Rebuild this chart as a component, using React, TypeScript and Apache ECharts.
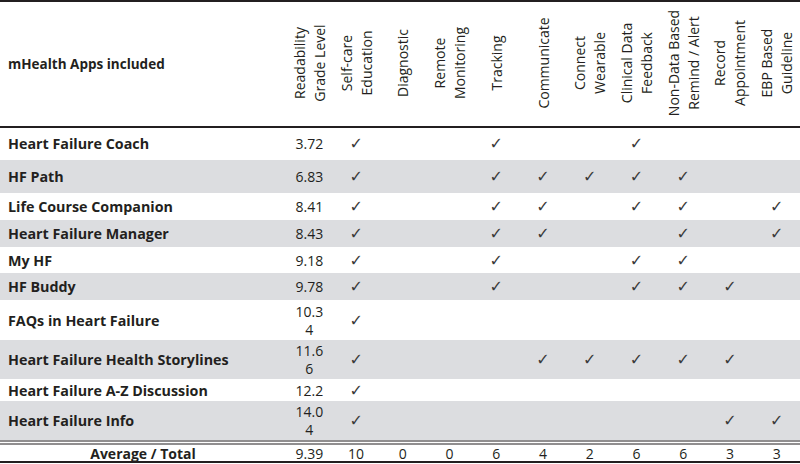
import React, { useEffect, useRef } from "react";
import * as echarts from "echarts";

// ---------- data ----------
const appNames = [
  "Heart Failure Coach",
  "HF Path",
  "Life Course Companion",
  "Heart Failure Manager",
  "My HF",
  "HF Buddy",
  "FAQs in Heart Failure",
  "Heart Failure Health Storylines",
  "Heart Failure A-Z Discussion",
  "Heart Failure Info",
];
const readability = [3.72, 6.83, 8.41, 8.43, 9.18, 9.78, 10.34, 11.66, 12.2, 14.04];
const nameHeader = "mHealth Apps included";
const columnLabels = [
  "Readability\nGrade Level",
  "Self-care\nEducation",
  "Diagnostic",
  "Remote\nMonitoring",
  "Tracking",
  "Communicate",
  "Connect\nWearable",
  "Clinical Data\nFeedback",
  "Non-Data Based\nRemind / Alert",
  "Record\nAppointment",
  "EBP Based\nGuideline",
];
// one flag per app (1 = ✓)
const selfCare = [1, 1, 1, 1, 1, 1, 1, 1, 1, 1];
const diagnostic = [0, 0, 0, 0, 0, 0, 0, 0, 0, 0];
const remoteMonitoring = [0, 0, 0, 0, 0, 0, 0, 0, 0, 0];
const tracking = [1, 1, 1, 1, 1, 1, 0, 0, 0, 0];
const communicate = [0, 1, 1, 1, 0, 0, 0, 1, 0, 0];
const connectWearable = [0, 1, 0, 0, 0, 0, 0, 1, 0, 0];
const clinicalFeedback = [1, 1, 1, 0, 1, 1, 0, 1, 0, 0];
const remindAlert = [0, 1, 1, 1, 1, 1, 0, 1, 0, 0];
const recordAppointment = [0, 0, 0, 0, 0, 1, 0, 1, 0, 1];
const ebpGuideline = [0, 0, 1, 1, 0, 0, 0, 0, 0, 1];
const totalLabel = "Average / Total";
const totals = ["9.39", "10", "0", "0", "6", "4", "2", "6", "6", "3", "3"];

// ---------- layout (relative row heights) ----------
const rowHeights = [33, 33, 27, 27, 26, 27, 40, 39, 22, 39];
const totalGap = 4;
const totalHeight = 18;

const features = [
  selfCare,
  diagnostic,
  remoteMonitoring,
  tracking,
  communicate,
  connectWearable,
  clinicalFeedback,
  remindAlert,
  recordAppointment,
  ebpGuideline,
];

const rowStart: number[] = [];
{
  let acc = 0;
  rowHeights.forEach((h) => {
    rowStart.push(acc);
    acc += h;
  });
}
const bodyEnd = rowHeights.reduce((a, b) => a + b, 0);
const totalStart = bodyEnd + totalGap;
const yMax = totalStart + totalHeight;
const rowCenter = (i: number) => rowStart[i] + rowHeights[i] / 2;
const totalCenter = totalStart + totalHeight / 2;

const INK = "#231f20";
const BAND = "#dcdde0";
const FONT = "'Open Sans', sans-serif";

const wrapValue = (v: number) => {
  const s = String(v);
  return s.length > 4 ? s.slice(0, 4) + "\n" + s.slice(4) : s;
};

export default function App() {
  const ref = useRef<HTMLDivElement>(null);
  useEffect(() => {
    document.body.style.margin = "0";
    if (!ref.current) return;
    const chart = echarts.init(ref.current, undefined, { renderer: "svg" });

    const checkData: number[][] = [];
    features.forEach((col, j) => {
      col.forEach((flag, i) => {
        if (flag) checkData.push([j + 1, rowCenter(i)]);
      });
    });

    chart.setOption({
      animation: false,
      backgroundColor: "#ffffff",
      title: {
        text: nameHeader,
        left: 8,
        top: 54,
        padding: 0,
        textStyle: { fontSize: 13.5, fontWeight: "bold", fontFamily: FONT, color: INK, lineHeight: 20 },
      },
      graphic: [
        { type: "rect", left: 0, top: 0, shape: { width: 800, height: 2 }, style: { fill: INK } },
      ],
      grid: { left: 286, right: 0, top: 127, bottom: 2 },
      xAxis: {
        type: "category",
        position: "top",
        data: columnLabels,
        axisLine: { show: false },
        axisTick: { show: false },
        splitLine: { show: false },
        axisLabel: {
          interval: 0,
          rotate: 90,
          align: "center",
          verticalAlign: "middle",
          margin: 64,
          fontSize: 14,
          lineHeight: 20,
          fontFamily: FONT,
          color: INK,
          hideOverlap: false,
        },
      },
      yAxis: {
        type: "value",
        inverse: true,
        min: 0,
        max: yMax,
        show: false,
      },
      series: [
        {
          type: "custom",
          name: "rows",
          clip: false,
          data: appNames.map((_, i) => [0, rowCenter(i), i]),
          renderItem: (params: any, api: any) => {
            const i = api.value(2);
            const top = api.coord([0, rowStart[i]])[1];
            const bot = api.coord([0, rowStart[i] + rowHeights[i]])[1];
            const children: any[] = [];
            if (i % 2 === 1) {
              children.push({
                type: "rect",
                shape: { x: 0, y: top, width: api.getWidth(), height: bot - top },
                style: { fill: BAND },
              });
            }
            children.push({
              type: "text",
              x: 8,
              y: (top + bot) / 2,
              style: {
                text: appNames[i],
                fill: INK,
                fontSize: 14.3,
                fontWeight: "bold",
                fontFamily: FONT,
                align: "left",
                verticalAlign: "middle",
              },
            });
            return { type: "group", children };
          },
        },
        {
          type: "custom",
          name: "readability",
          clip: false,
          data: readability.map((v, i) => [0, rowCenter(i), v]),
          renderItem: (params: any, api: any) => {
            const p = api.coord([api.value(0), api.value(1)]);
            return {
              type: "text",
              x: p[0],
              y: p[1],
              style: {
                text: wrapValue(readability[params.dataIndex]),
                fill: INK,
                fontSize: 14,
                lineHeight: 18,
                fontFamily: FONT,
                align: "center",
                verticalAlign: "middle",
              },
            };
          },
        },
        {
          type: "custom",
          name: "features",
          clip: false,
          data: checkData,
          renderItem: (params: any, api: any) => {
            const p = api.coord([api.value(0), api.value(1)]);
            return {
              type: "text",
              x: p[0],
              y: p[1],
              style: {
                text: "✓",
                fill: "#3a3a3a",
                fontSize: 16,
                fontFamily: "'DejaVu Sans', sans-serif",
                align: "center",
                verticalAlign: "middle",
              },
            };
          },
        },
        {
          type: "custom",
          name: "totals",
          clip: false,
          data: totals.map((t, j) => [j, totalCenter]),
          renderItem: (params: any, api: any) => {
            const p = api.coord([api.value(0), api.value(1)]);
            return {
              type: "text",
              x: p[0],
              y: p[1],
              style: {
                text: totals[params.dataIndex],
                fill: INK,
                fontSize: 14,
                fontFamily: FONT,
                align: "center",
                verticalAlign: "middle",
              },
            };
          },
        },
        {
          type: "custom",
          name: "rules",
          clip: false,
          data: [[0, totalCenter]],
          renderItem: (params: any, api: any) => {
            const W = api.getWidth();
            const yHead = api.coord([0, 0])[1];
            const yD1 = api.coord([0, bodyEnd + 1])[1];
            const yD2 = api.coord([0, totalStart])[1];
            const yBot = api.coord([0, yMax])[1];
            const yTot = api.coord([0, totalCenter])[1];
            const line = (y: number, w: number) => ({
              type: "line",
              shape: { x1: 0, y1: y, x2: W, y2: y },
              style: { stroke: INK, lineWidth: w },
            });
            return {
              type: "group",
              children: [
                line(yHead, 2),
                line(yD1, 1.2),
                line(yD2, 1.2),
                line(yBot, 2),
                {
                  type: "text",
                  x: params.coordSys.x / 2,
                  y: yTot,
                  style: {
                    text: totalLabel,
                    fill: INK,
                    fontSize: 14,
                    fontWeight: "bold",
                    fontFamily: FONT,
                    align: "center",
                    verticalAlign: "middle",
                  },
                },
              ],
            };
          },
        },
      ],
    });
    return () => chart.dispose();
  }, []);
  return <div ref={ref} style={{ width: 800, height: 464 }} />;
}
